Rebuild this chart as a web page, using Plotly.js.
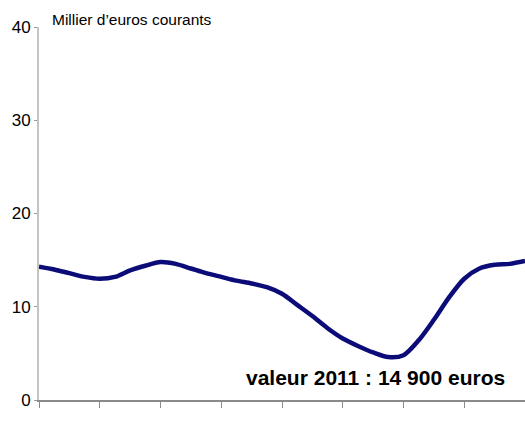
<!DOCTYPE html>
<html>
<head>
<meta charset="utf-8">
<script src="https://cdn.plot.ly/plotly-3.0.1.min.js"></script>
<style>html,body{margin:0;padding:0;background:#fff;}#chart{width:525px;height:431px;}</style>
</head>
<body>
<div id="chart"></div>
<script>
const years = [1979,1980,1981,1982,1983,1984,1985,1986,1987,1988,1989,1990,1991,1992,1993,1994,1995,1996,1997,1998,1999,2000,2001,2002,2003,2004,2005,2006,2007,2008,2009,2010,2011];
const values = [14.3,14.0,13.6,13.2,13.0,13.2,13.9,14.4,14.8,14.6,14.1,13.6,13.2,12.8,12.5,12.1,11.4,10.2,9.0,7.7,6.6,5.8,5.1,4.6,4.8,6.4,8.6,11.0,13.0,14.1,14.5,14.6,14.9];
const yTicks = [0,10,20,30,40];
const unitLabel = "Millier d\u2019euros courants";
const noteText = "valeur 2011 : 14 900 euros";

const font = "Arial, 'Liberation Sans', sans-serif";
Plotly.newPlot('chart', [{
  x: years, y: values, type: 'scatter', mode: 'lines',
  line: {color: '#0c0c78', width: 4.5, shape: 'spline', smoothing: 0.8},
  hoverinfo: 'none', cliponaxis: false
}], {
  width: 525, height: 431,
  margin: {l: 39, r: 0, t: 27, b: 31},
  paper_bgcolor: '#fff', plot_bgcolor: '#fff',
  showlegend: false,
  font: {family: font, color: '#000'},
  xaxis: {
    range: [1979, 2011], showgrid: false, zeroline: false,
    showline: true, linecolor: '#8a8a8a', linewidth: 2,
    ticks: 'outside', ticklen: 6, tickcolor: '#8a8a8a', tickwidth: 1,
    tick0: 1979, dtick: 4, showticklabels: false
  },
  yaxis: {
    range: [0, 40], showgrid: false, zeroline: false,
    showline: true, linecolor: '#c4c4c4', linewidth: 2,
    ticks: 'outside', ticklen: 3, tickcolor: '#999', tickwidth: 1,
    tickvals: yTicks, ticktext: yTicks.map(String),
    tickfont: {size: 17, color: '#000', family: font}
  },
  annotations: [
    {text: unitLabel, xref: 'paper', yref: 'paper', x: 0.022, y: 1.0, yshift: -3,
     xanchor: 'left', yanchor: 'bottom', showarrow: false,
     font: {size: 15.5, color: '#000', family: font}},
    {text: '<b>' + noteText + '</b>', xref: 'paper', yref: 'paper', x: 0.692, y: 0.06,
     xanchor: 'center', yanchor: 'middle', showarrow: false,
     font: {size: 21, color: '#000', family: font}}
  ]
}, {staticPlot: true});
</script>
</body>
</html>
